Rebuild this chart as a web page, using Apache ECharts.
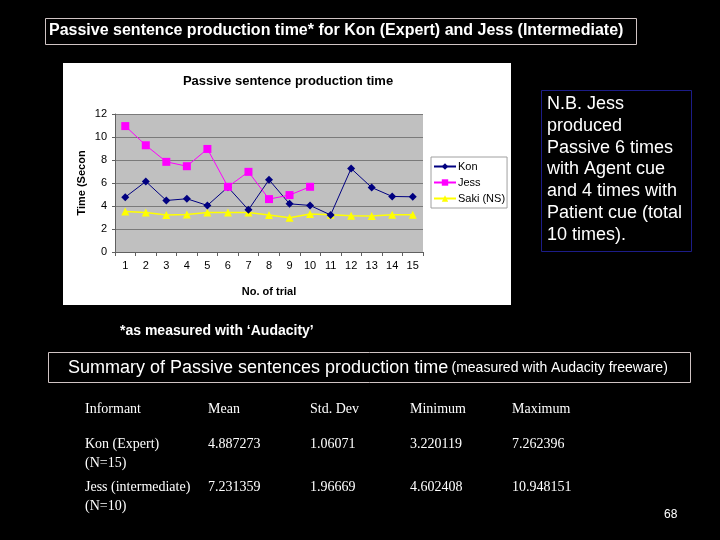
<!DOCTYPE html>
<html>
<head>
<meta charset="utf-8">
<script src="https://cdn.jsdelivr.net/npm/echarts@6/dist/echarts.min.js"></script>
<style>
html,body{margin:0;padding:0;background:#000;}
#c{width:720px;height:540px;}
</style>
</head>
<body>
<div id="c"></div>
<script>
const trials = ['1','2','3','4','5','6','7','8','9','10','11','12','13','14','15'];
const kon  = [4.77, 6.13, 4.48, 4.63, 4.05, 5.64, 3.67, 6.28, 4.19, 4.05, 3.22, 7.26, 5.61, 4.83, 4.80];
const jess = [10.95, 9.28, 7.84, 7.46, 8.96, 5.67, 6.97, 4.60, 4.95, 5.67];
const saki = [3.53, 3.44, 3.21, 3.27, 3.44, 3.44, 3.44, 3.21, 2.98, 3.30, 3.24, 3.15, 3.12, 3.24, 3.24];
const seriesNames = ['Kon', 'Jess', 'Saki (NS)'];

const pageTitle = 'Passive sentence production time* for Kon (Expert) and Jess (Intermediate)';
const chartTitle = 'Passive sentence production time';
const yName = 'Time (Secon';
const xName = 'No. of trial';
const footnote = '*as measured with \u2018Audacity\u2019';
const noteLines = ['N.B. Jess', 'produced', 'Passive 6 times', 'with Agent cue', 'and 4 times with', 'Patient cue (total', '10 times).'];
const summaryMain = 'Summary of Passive sentences production time';
const summarySub = '(measured with Audacity freeware)';
const tableHeader = ['Informant', 'Mean', 'Std. Dev', 'Minimum', 'Maximum'];
const tableRows = [
  ['Kon (Expert)\n(N=15)', '4.887273', '1.06071', '3.220119', '7.262396'],
  ['Jess (intermediate)\n(N=10)', '7.231359', '1.96669', '4.602408', '10.948151']
];
const pageNum = '68';

const colX = [85, 208, 310, 410, 512];
const rowY = [400, 435, 478];

const graphics = [
  {type:'rect', shape:{x:45.5, y:18.5, width:591, height:26}, style:{fill:'none', stroke:'#d0c4c4', lineWidth:1}, z:1},
  {type:'text', x:49, y:31, style:{text:pageTitle, fill:'#fff', font:'bold 16px Arial, "Liberation Sans", sans-serif', textVerticalAlign:'middle'}, z:2},
  {type:'rect', shape:{x:63, y:63, width:448, height:242}, style:{fill:'#fff'}, z:-10},
  {type:'text', x:288, y:81, style:{text:chartTitle, fill:'#000', font:'bold 13px Arial, "Liberation Sans", sans-serif', textAlign:'center', textVerticalAlign:'middle'}, z:2},
  {type:'text', x:120, y:331, style:{text:footnote, fill:'#fff', font:'bold 14px Arial, "Liberation Sans", sans-serif', textVerticalAlign:'middle'}, z:2},
  {type:'rect', shape:{x:541.5, y:90.5, width:150, height:161}, style:{fill:'none', stroke:'#1c1c88', lineWidth:1}, z:1},
  {type:'rect', shape:{x:48.5, y:352.5, width:642, height:30}, style:{fill:'none', stroke:'#d0c4c4', lineWidth:1}, z:1},
  {type:'text', x:68, y:368, style:{
    rich:{a:{fill:'#fff', font:'18px Arial, "Liberation Sans", sans-serif'}, b:{fill:'#fff', font:'14px Arial, "Liberation Sans", sans-serif'}},
    text:'{a|' + summaryMain + '} {b|' + summarySub + '}', textVerticalAlign:'middle'}, z:2},
  {type:'text', x:664, y:515, style:{text:pageNum, fill:'#fff', font:'12px Arial, "Liberation Sans", sans-serif', textVerticalAlign:'middle'}, z:2}
];
noteLines.forEach((t, i) => {
  graphics.push({type:'text', x:547, y:104 + i*21.8, style:{text:t, fill:'#fff', font:'18px Arial, "Liberation Sans", sans-serif', textVerticalAlign:'middle'}, z:2});
});
const tFont = '14px "Liberation Serif", "Times New Roman", serif';
tableHeader.forEach((t, j) => {
  graphics.push({type:'text', x:colX[j], y:rowY[0], style:{text:t, fill:'#fff', font:tFont, lineHeight:19}, z:2});
});
tableRows.forEach((row, i) => {
  row.forEach((t, j) => {
    graphics.push({type:'text', x:colX[j], y:rowY[i+1], style:{text:t, fill:'#fff', font:tFont, lineHeight:19}, z:2});
  });
});

const chart = echarts.init(document.getElementById('c'));
chart.setOption({
  backgroundColor:'#000',
  animation:false,
  graphic:graphics,
  legend:{
    orient:'vertical', left:431, top:157,
    data:seriesNames,
    backgroundColor:'#fff', borderColor:'#a0a0a0', borderWidth:1,
    padding:[4,2,4,2], itemGap:5, itemWidth:22, itemHeight:8,
    textStyle:{color:'#000', fontSize:11, padding:[0,0,0,-3], fontFamily:'Arial, "Liberation Sans", sans-serif'}
  },
  grid:{left:115, top:114, width:308, height:138, show:true, backgroundColor:'#c0c0c0', borderWidth:0},
  xAxis:{
    type:'category', data:trials, boundaryGap:true,
    name:xName, nameLocation:'middle', nameGap:34,
    nameTextStyle:{color:'#000', fontWeight:'bold', fontSize:11, fontFamily:'Arial, "Liberation Sans", sans-serif'},
    axisLine:{lineStyle:{color:'#606060'}},
    axisTick:{show:true, alignWithLabel:false, length:4, lineStyle:{color:'#606060'}},
    axisLabel:{color:'#000', fontSize:11, margin:8, fontFamily:'Arial, "Liberation Sans", sans-serif'}
  },
  yAxis:{
    type:'value', min:0, max:12, interval:2,
    name:yName, nameLocation:'middle', nameGap:28,
    nameTextStyle:{color:'#000', fontWeight:'bold', fontSize:11, fontFamily:'Arial, "Liberation Sans", sans-serif'},
    axisLine:{show:true, lineStyle:{color:'#606060'}},
    axisTick:{show:true, length:3, lineStyle:{color:'#606060'}},
    axisLabel:{color:'#000', fontSize:11, margin:8, fontFamily:'Arial, "Liberation Sans", sans-serif'},
    splitLine:{show:true, lineStyle:{color:'#7a7a7a', width:1}}
  },
  series:[
    {name:seriesNames[0], type:'line', data:kon, symbol:'diamond', symbolSize:8,
     lineStyle:{color:'#000080', width:1}, itemStyle:{color:'#000080'}, z:3},
    {name:seriesNames[1], type:'line', data:jess, symbol:'rect', symbolSize:8,
     lineStyle:{color:'#ff00ff', width:1}, itemStyle:{color:'#ff00ff'}, z:4},
    {name:seriesNames[2], type:'line', data:saki, symbol:'triangle', symbolSize:8,
     lineStyle:{color:'#ffff00', width:1.5}, itemStyle:{color:'#ffff00'}, z:2}
  ]
});
</script>
</body>
</html>
